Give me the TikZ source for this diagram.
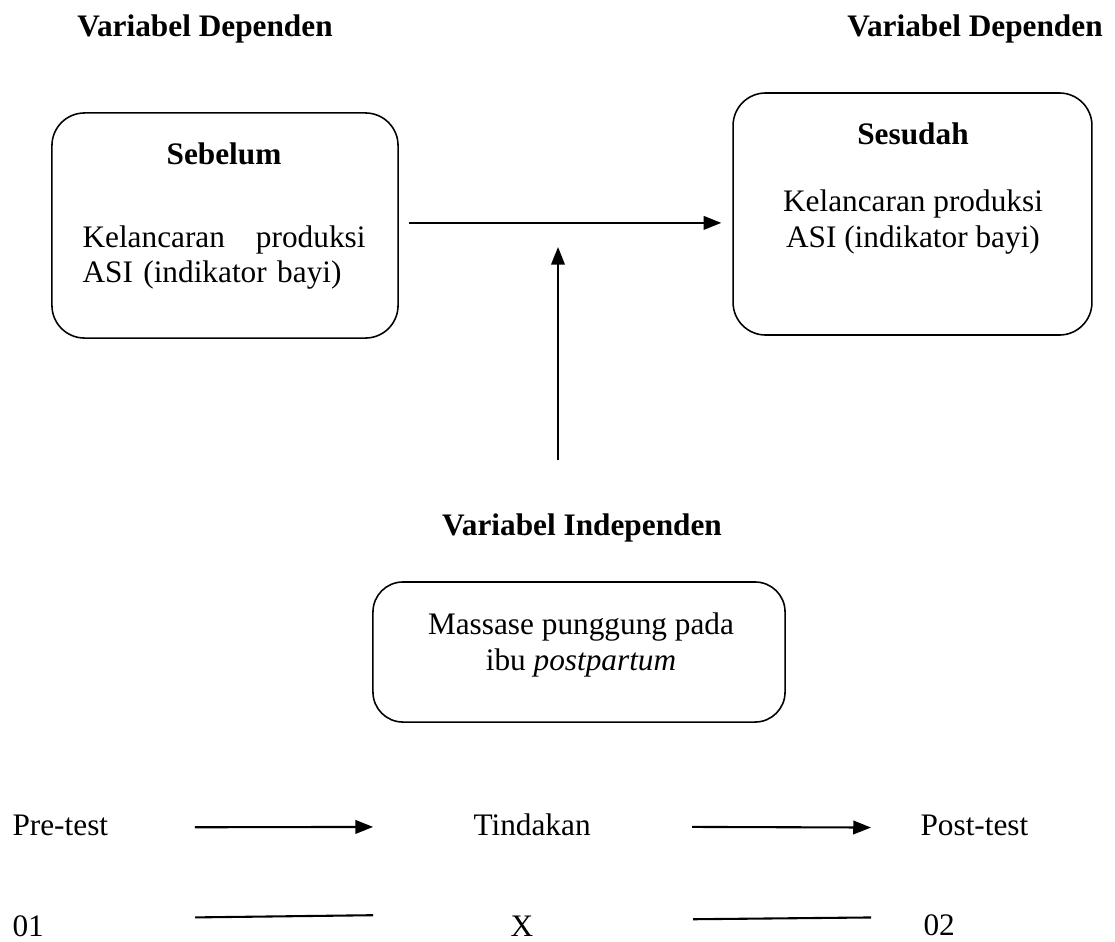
\documentclass[tikz,border=0pt]{standalone}
\usepackage{fontspec}
\setmainfont{Liberation Serif}
\usetikzlibrary{arrows.meta,positioning}

\begin{document}
\begin{tikzpicture}[x=0.3834pt, y=-0.3834pt,
    font=\fontsize{12}{13.8}\selectfont,
    teks/.style={inner sep=0pt},
    judul/.style={inner sep=0pt, font=\fontsize{12}{13.8}\selectfont\bfseries},
    kotak/.style={draw, line width=0.6pt, rounded corners=12.5pt, inner sep=0pt},
    panah/.style={line width=0.8pt, -{Triangle[length=6.8pt, width=5.2pt]}},
    garis/.style={line width=0.8pt}]
    \useasboundingbox (0,0) rectangle (1115,941);

    % 变量标题
    \node[judul, anchor=base] (depA) at (205,36) {Variabel Dependen};
    \node[judul, anchor=base] (depB) at (975,36) {Variabel Dependen};
    \node[judul, anchor=base] (indep) at (582,535) {Variabel Independen};

    % 前后两个框
    \node[kotak, minimum width=132.7pt, minimum height=86.3pt] (sebelum) at (225,225.5) {};
    \node[judul, anchor=base] (tSebelum) at (224,164) {Sebelum};
    \node[teks, anchor=base west, text width=108.5pt, align=left] (isiSebelum) at (82,247)
        {Kelancaran\hfill produksi\\ASI (indikator bayi)};

    \node[kotak, minimum width=137.6pt, minimum height=92.8pt] (sesudah) at (912.5,214) {};
    \node[judul, anchor=base] (tSesudah) at (913,144) {Sesudah};
    \node[teks, anchor=base, align=center] (isiSesudah) at (913,247)
        {Kelancaran produksi\\ASI (indikator bayi)};

    % 自变量框
    \node[kotak, rounded corners=11.5pt, minimum width=158pt, minimum height=53.7pt] (pijat) at (579,652) {};
    \node[teks, anchor=base, align=center] (isiPijat) at (581,670)
        {Massase punggung pada\\ibu \textit{postpartum}};

    % 箭头
    \coordinate (kiri) at ([yshift=1pt]sebelum.east);
    \draw[panah, shorten <=3.8pt, shorten >=4.2pt] (kiri) -- (kiri -| sesudah.west);
    \coordinate (pangkal) at (558,460);
    \coordinate (ujung) at (558,247);
    \draw[panah] (pangkal) -- (ujung);

    % 设计
    \node[teks, anchor=base west] (pre) at (12,835) {Pre-test};
    \node[teks, anchor=base west] (tindakan) at (473,835) {Tindakan};
    \node[teks, anchor=base west] (post) at (920,835) {Post-test};
    \node[teks, anchor=base west] (o1) at (12,936) {01};
    \node[teks, anchor=base west] (x) at (510,936) {X};
    \node[teks, anchor=base west] (o2) at (923,935) {02};

    \draw[panah] ([xshift=33.1pt, yshift=-0.9pt]pre.east) -- ([xshift=-38.3pt, yshift=-1pt]tindakan.west);
    \draw[panah] ([xshift=38.7pt, yshift=-1pt]tindakan.east) -- ([xshift=-18.8pt, yshift=-1pt]post.west);
    \draw[garis] ([xshift=57.8pt, yshift=3.2pt]o1.east) -- ([xshift=-52.5pt, yshift=4.05pt]x.west);
    \draw[garis] ([xshift=61.1pt, yshift=2.5pt]x.east) -- ([xshift=-19.9pt, yshift=2.8pt]o2.west);
\end{tikzpicture}
\end{document}
